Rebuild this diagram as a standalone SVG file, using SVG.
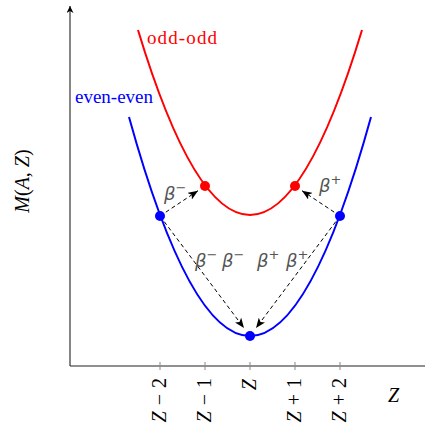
<svg xmlns="http://www.w3.org/2000/svg" width="425" height="437" viewBox="0 0 425 437">
<style>
.axis{stroke:#222;stroke-width:1.1;fill:none}
.tick{stroke:#888;stroke-width:1}
.tl{font-family:"Liberation Serif","Times New Roman",serif;font-size:20px;fill:#000}
.it{font-style:italic}
.curve{fill:none;stroke-width:2}
.dash{stroke:#000;stroke-width:1;stroke-dasharray:4 3;fill:none}
.beta{font-family:"DejaVu Sans",sans-serif;font-style:italic;font-size:18px;fill:#555}
.sup{font-size:13px}
.lbl{font-family:"Liberation Serif","Times New Roman",serif;font-size:19px}
</style>
<defs>
<marker id="ah" markerUnits="userSpaceOnUse" markerWidth="10" markerHeight="8" refX="10" refY="4" orient="auto">
<path d="M0,0 L10,4 L0,8 L2.5,4 z" fill="#000" stroke="none"/>
</marker>
<marker id="ax" markerUnits="userSpaceOnUse" markerWidth="8" markerHeight="7" refX="7" refY="3.5" orient="auto">
<path d="M0,0 L7,3.5 L0,7 L2,3.5 z" fill="#000" stroke="none"/>
</marker>
</defs>
<g id="axes">
<line class="axis" x1="70" y1="366" x2="70" y2="6" marker-end="url(#ax)"/>
<line class="axis" x1="70" y1="366" x2="425" y2="366"/>
<line class="tick" x1="160" y1="362" x2="160" y2="370"/>
<line class="tick" x1="205" y1="362" x2="205" y2="370"/>
<line class="tick" x1="250" y1="362" x2="250" y2="370"/>
<line class="tick" x1="295" y1="362" x2="295" y2="370"/>
<line class="tick" x1="340" y1="362" x2="340" y2="370"/>
<text class="tl" text-anchor="end" transform="translate(166,378) rotate(-90)"><tspan class="it">Z</tspan><tspan dx="6">−</tspan><tspan dx="6">2</tspan></text>
<text class="tl" text-anchor="end" transform="translate(211,378) rotate(-90)"><tspan class="it">Z</tspan><tspan dx="6">−</tspan><tspan dx="6">1</tspan></text>
<text class="tl" text-anchor="end" transform="translate(256,379) rotate(-90)"><tspan class="it">Z</tspan></text>
<text class="tl" text-anchor="end" transform="translate(301,378) rotate(-90)"><tspan class="it">Z</tspan><tspan dx="6">+</tspan><tspan dx="6">1</tspan></text>
<text class="tl" text-anchor="end" transform="translate(346,378) rotate(-90)"><tspan class="it">Z</tspan><tspan dx="6">+</tspan><tspan dx="6">2</tspan></text>
<text class="tl it" x="388" y="402">Z</text>
<text class="tl" font-size="18" text-anchor="middle" transform="translate(29,181) rotate(-90)"><tspan class="it">M</tspan>(<tspan class="it">A</tspan>, <tspan class="it">Z</tspan>)</text>
</g>
<g id="odd-odd">
<path class="curve" stroke="#ff0000" d="M138,30 Q250,400 362,30"/>
<text class="lbl" fill="#ff0000" x="147" y="44" textLength="70">odd-odd</text>
</g>
<g id="even-even">
<path class="curve" stroke="#0000ff" d="M129,117 Q250,555 371,117"/>
<text class="lbl" fill="#0000ff" x="75" y="103" textLength="78">even-even</text>
</g>
<g id="connectors">
<line class="dash" x1="160" y1="216" x2="198" y2="190.7" marker-end="url(#ah)"/>
<line class="dash" x1="340" y1="216" x2="302" y2="190.7" marker-end="url(#ah)"/>
<line class="dash" x1="160" y1="216" x2="244" y2="328" marker-end="url(#ah)"/>
<line class="dash" x1="340" y1="216" x2="256" y2="328" marker-end="url(#ah)"/>
</g>
<g id="labels">
<text class="beta" x="164" y="200">β<tspan class="sup" dy="-8">−</tspan></text>
<text class="beta" x="319" y="192">β<tspan class="sup" dy="-8">+</tspan></text>
<text class="beta" x="195" y="267">β<tspan class="sup" dy="-8">−</tspan><tspan x="222" dy="8">β</tspan><tspan class="sup" dy="-8">−</tspan></text>
<text class="beta" x="257" y="267">β<tspan class="sup" dy="-8">+</tspan><tspan x="286" dy="8">β</tspan><tspan class="sup" dy="-8">+</tspan></text>
</g>
<g id="points">
<circle id="p-z-2" cx="160" cy="216" r="5" fill="#0000ff"/>
<circle id="p-z+2" cx="340" cy="216" r="5" fill="#0000ff"/>
<circle id="p-z" cx="250" cy="336" r="5" fill="#0000ff"/>
<circle id="p-z-1" cx="205" cy="186" r="5" fill="#ff0000"/>
<circle id="p-z+1" cx="295" cy="186" r="5" fill="#ff0000"/>
</g>
</svg>
